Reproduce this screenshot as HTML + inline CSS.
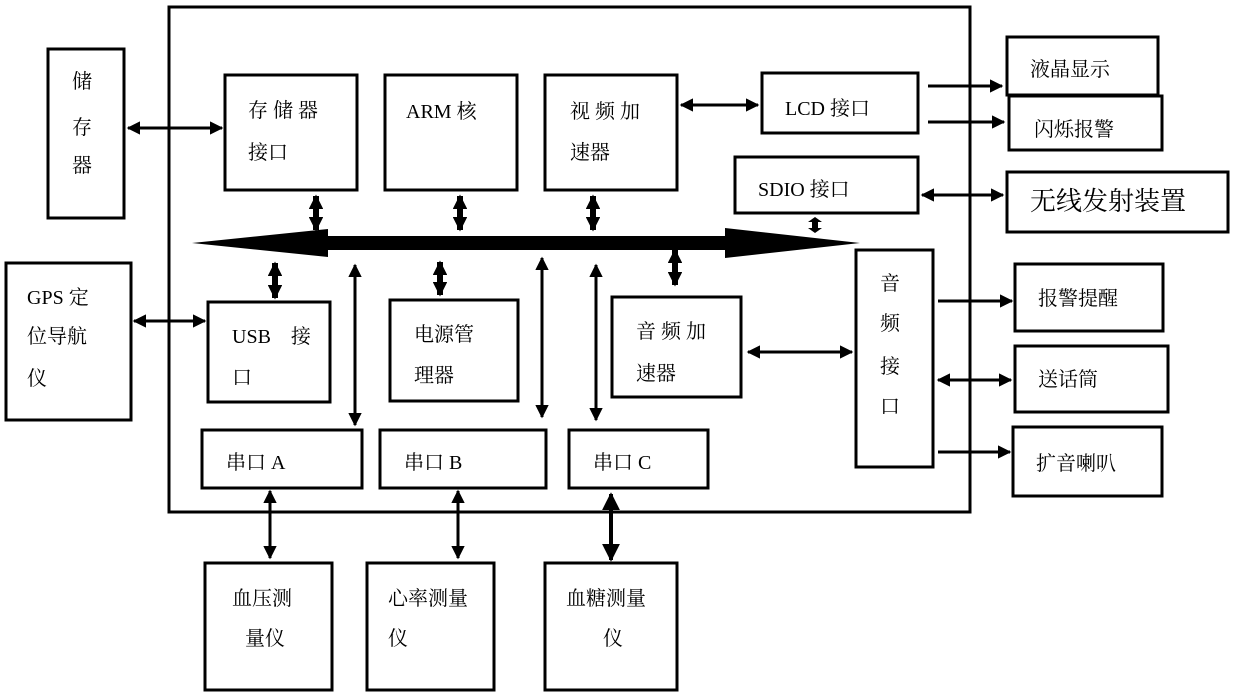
<!DOCTYPE html>
<html><head><meta charset="utf-8"><style>
html,body{margin:0;padding:0;background:#fff;}
svg text{font-family:"Liberation Serif","Noto Serif CJK SC",serif;font-size:20px;fill:#000;}
</style></head><body>
<svg width="1240" height="694" viewBox="0 0 1240 694" xmlns="http://www.w3.org/2000/svg">
<defs>
<marker id="a" viewBox="0 0 10 10" refX="9" refY="5" markerWidth="4.5" markerHeight="4.5" orient="auto-start-reverse" markerUnits="strokeWidth"><path d="M0,0 L10,5 L0,10 z" fill="#000"/></marker>
<marker id="b" viewBox="0 0 10 10" refX="9" refY="5" markerWidth="2.4" markerHeight="2.4" orient="auto-start-reverse" markerUnits="strokeWidth"><path d="M0,0 L10,5 L0,10 z" fill="#000"/></marker>
</defs>
<g fill="none" stroke="#000" stroke-width="3">
<rect x="169" y="7" width="801" height="505"/>
<rect x="48" y="49" width="76" height="169"/>
<rect x="6" y="263" width="125" height="157"/>
<rect x="225" y="75" width="132" height="115"/>
<rect x="385" y="75" width="132" height="115"/>
<rect x="545" y="75" width="132" height="115"/>
<rect x="762" y="73" width="156" height="60"/>
<rect x="735" y="157" width="183" height="56"/>
<rect x="208" y="302" width="122" height="100"/>
<rect x="390" y="300" width="128" height="101"/>
<rect x="612" y="297" width="129" height="100"/>
<rect x="856" y="250" width="77" height="217"/>
<rect x="202" y="430" width="160" height="58"/>
<rect x="380" y="430" width="166" height="58"/>
<rect x="569" y="430" width="139" height="58"/>
<rect x="205" y="563" width="127" height="127"/>
<rect x="367" y="563" width="127" height="127"/>
<rect x="545" y="563" width="132" height="127"/>
<rect x="1007" y="37" width="151" height="58"/>
<rect x="1009" y="96" width="153" height="54"/>
<rect x="1007" y="172" width="221" height="60"/>
<rect x="1015" y="264" width="148" height="67"/>
<rect x="1015" y="346" width="153" height="66"/>
<rect x="1013" y="427" width="149" height="69"/>
</g>
<polygon points="192,243 328,229 328,236 725,236 725,228 860,243 725,258 725,250 328,250 328,257" fill="#000"/>
<polygon points="815,217 822,222 818,222 818,228 822,228 815,233 808,228 812,228 812,222 808,222" fill="#000"/>
<g stroke="#000" fill="none">
<g stroke-width="6" marker-start="url(#b)" marker-end="url(#b)">
<line x1="316" y1="196" x2="316" y2="230"/>
<line x1="460" y1="196" x2="460" y2="230"/>
<line x1="593" y1="196" x2="593" y2="230"/>
<line x1="275" y1="263" x2="275" y2="298"/>
<line x1="440" y1="262" x2="440" y2="295"/>
<line x1="675" y1="250" x2="675" y2="285"/>
</g>
<g stroke-width="3" marker-start="url(#a)" marker-end="url(#a)">
<line x1="355" y1="265" x2="355" y2="425"/>
<line x1="542" y1="258" x2="542" y2="417"/>
<line x1="596" y1="265" x2="596" y2="420"/>
<line x1="128" y1="128" x2="222" y2="128"/>
<line x1="134" y1="321" x2="205" y2="321"/>
<line x1="681" y1="105" x2="758" y2="105"/>
<line x1="922" y1="195" x2="1003" y2="195"/>
<line x1="748" y1="352" x2="852" y2="352"/>
<line x1="938" y1="380" x2="1011" y2="380"/>
<line x1="270" y1="491" x2="270" y2="558"/>
<line x1="458" y1="491" x2="458" y2="558"/>
</g>
<line x1="611" y1="494" x2="611" y2="560" stroke-width="4" marker-start="url(#a)" marker-end="url(#a)"/>
<g stroke-width="3" marker-end="url(#a)">
<line x1="928" y1="86" x2="1002" y2="86"/>
<line x1="928" y1="122" x2="1004" y2="122"/>
<line x1="938" y1="301" x2="1012" y2="301"/>
<line x1="938" y1="452" x2="1010" y2="452"/>
</g>
</g>
<text x="72" y="88">储</text><text x="72" y="134">存</text><text x="72" y="172">器</text>
<text x="27" y="304">GPS 定</text><text x="27" y="343">位导航</text><text x="27" y="385">仪</text>
<text x="248" y="117">存 储 器</text><text x="248" y="159">接口</text>
<text x="406" y="118">ARM 核</text>
<text x="570" y="118">视 频 加</text><text x="570" y="159">速器</text>
<text x="785" y="115">LCD 接口</text>
<text x="758" y="196">SDIO 接口</text>
<text x="232" y="343">USB　接</text><text x="232" y="384">口</text>
<text x="414" y="341">电源管</text><text x="414" y="382">理器</text>
<text x="636" y="338">音 频 加</text><text x="636" y="380">速器</text>
<text x="880" y="290">音</text><text x="880" y="330">频</text><text x="880" y="373">接</text><text x="880" y="413">口</text>
<text x="226" y="469">串口  A</text>
<text x="404" y="469">串口 B</text>
<text x="593" y="469">串口 C</text>
<text x="232" y="605">血压测</text><text x="245" y="645">量仪</text>
<text x="388" y="605">心率测量</text><text x="388" y="645">仪</text>
<text x="566" y="605">血糖测量</text><text x="603" y="645">仪</text>
<text x="1030" y="76">液晶显示</text>
<text x="1034" y="136">闪烁报警</text>
<text x="1030" y="210" style="font-size:26px">无线发射装置</text>
<text x="1038" y="305">报警提醒</text>
<text x="1038" y="386">送话筒</text>
<text x="1036" y="470">扩音喇叭</text>
</svg>
</body></html>
